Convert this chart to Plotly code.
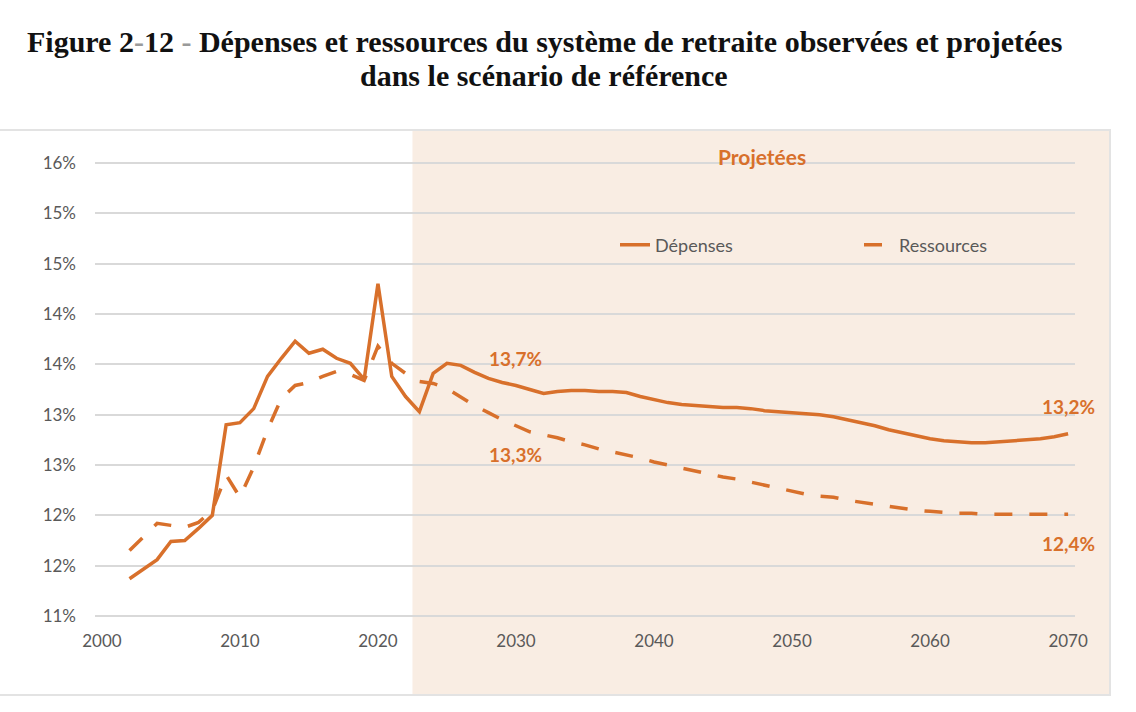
import plotly.graph_objects as go

# ---------------- data ----------------
years_dep = list(range(2002, 2071))
depenses = [11.77, 11.87, 11.96, 12.14, 12.15, 12.27, 12.40, 13.30, 13.32, 13.46,
            13.78, 13.96, 14.13, 14.01, 14.05, 13.96, 13.91, 13.75, 14.70, 13.78,
            13.58, 13.43, 13.81, 13.91, 13.89, 13.82, 13.76, 13.72, 13.69, 13.65,
            13.61, 13.63, 13.64, 13.64, 13.63, 13.63, 13.62, 13.58, 13.55, 13.52,
            13.50, 13.49, 13.48, 13.47, 13.47, 13.46, 13.44, 13.43, 13.42, 13.41,
            13.40, 13.38, 13.35, 13.32, 13.29, 13.25, 13.22, 13.19, 13.16, 13.14,
            13.13, 13.12, 13.12, 13.13, 13.14, 13.15, 13.16, 13.18, 13.21]

years_res = list(range(2002, 2071))
ressources = [12.05, 12.19, 12.32, 12.30, 12.28, 12.33, 12.45, 12.80, 12.58, 12.88,
              13.25, 13.56, 13.69, 13.72, 13.78, 13.83, 13.80, 13.74, 14.08, 13.91,
              13.81, 13.73, 13.71, 13.66, 13.57, 13.49, 13.42, 13.35, 13.29, 13.23,
              13.20, 13.17, 13.13, 13.10, 13.06, 13.03, 13.00, 12.97, 12.93, 12.90,
              12.87, 12.84, 12.81, 12.78, 12.76, 12.73, 12.70, 12.67, 12.64, 12.61,
              12.59, 12.58, 12.55, 12.53, 12.51, 12.49, 12.47, 12.45, 12.44, 12.43,
              12.42, 12.42, 12.41, 12.41, 12.41, 12.41, 12.41, 12.41, 12.41]

y_tickvals = [11.4, 11.9, 12.4, 12.9, 13.4, 13.9, 14.4, 14.9, 15.4, 15.9]
y_ticktext = ["11%", "12%", "12%", "13%", "13%", "14%", "14%", "15%", "15%", "16%"]
x_tickvals = [2000, 2010, 2020, 2030, 2040, 2050, 2060, 2070]

projection_start = 2022.5
label_years = [2030, 2070]

HY = "<span style='color:#9a9a9a'>-</span>"
title_line1 = (f"Figure 2{HY}12 {HY} Dépenses et ressources du système de retraite "
               "observées et projetées")
title_line2 = "dans le scénario de référence"

# ---------------- styling ----------------
ORANGE = "#D8702B"
SHADE = "#F9EDE3"
GRID = "#D9D9D9"
TXT = "#595959"
FONT = "Lato"

W, H = 1136, 712
ML, MR, MT, MB = 95, 61, 161, 94
X_RANGE = [1999.5, 2070.5]
Y_RANGE = [11.38, 15.92]
PW = W - ML - MR
PH = H - MT - MB


def px_to_paper_x(px):
    return (px - ML) / PW


def px_to_paper_y(py):
    return (H - MB - py) / PH


def year_to_paper_x(yr):
    return (yr - X_RANGE[0]) / (X_RANGE[1] - X_RANGE[0])


def fmt(v):
    return f"{v:.1f}".replace(".", ",") + "%"


fig = go.Figure()
fig.add_trace(go.Scatter(x=years_dep, y=depenses, mode="lines", name="Dépenses",
                         line=dict(color=ORANGE, width=3.5)))
fig.add_trace(go.Scatter(x=years_res, y=ressources, mode="lines", name="Ressources",
                         line=dict(color=ORANGE, width=3.5, dash="18px,17px")))

shapes = [
    dict(type="rect", xref="paper", yref="paper", layer="below",
         x0=year_to_paper_x(projection_start), x1=px_to_paper_x(1110),
         y0=px_to_paper_y(694), y1=px_to_paper_y(130),
         fillcolor=SHADE, line=dict(width=0)),
    dict(type="rect", xref="paper", yref="paper", layer="below",
         x0=px_to_paper_x(-3), x1=px_to_paper_x(1110),
         y0=px_to_paper_y(695), y1=px_to_paper_y(130),
         fillcolor="rgba(0,0,0,0)", line=dict(color="#E3E3E3", width=2)),
]

TITLE_FONT = dict(family="Liberation Serif", size=30, color="#111111")
annotations = [
    dict(text=f"<b>{title_line1}</b>", xref="paper", yref="paper",
         x=px_to_paper_x(544), y=px_to_paper_y(42), showarrow=False,
         xanchor="center", yanchor="middle", font=TITLE_FONT),
    dict(text=f"<b>{title_line2}</b>", xref="paper", yref="paper",
         x=px_to_paper_x(544), y=px_to_paper_y(76), showarrow=False,
         xanchor="center", yanchor="middle", font=TITLE_FONT),
    dict(text="Projetées", xref="paper", yref="paper",
         x=px_to_paper_x(762), y=px_to_paper_y(157), showarrow=False,
         xanchor="center", yanchor="middle",
         font=dict(family=FONT, size=21, color=ORANGE, weight="bold")),
]
for yr in label_years:
    i = years_dep.index(yr)
    j = years_res.index(yr)
    annotations.append(dict(text=fmt(depenses[i]), x=yr, y=depenses[i], xref="x", yref="y",
                            showarrow=False, yshift=27,
                            font=dict(family=FONT, size=19, color=ORANGE, weight="bold")))
    annotations.append(dict(text=fmt(ressources[j]), x=yr, y=ressources[j], xref="x", yref="y",
                            showarrow=False, yshift=-29,
                            font=dict(family=FONT, size=19, color=ORANGE, weight="bold")))

fig.update_layout(
    width=W, height=H,
    margin=dict(l=ML, r=MR, t=MT, b=MB, autoexpand=False),
    paper_bgcolor="white",
    plot_bgcolor="rgba(0,0,0,0)",
    xaxis=dict(range=X_RANGE, tickvals=x_tickvals, showgrid=False, zeroline=False,
               showline=False, ticks="", ticklabelstandoff=11,
               tickfont=dict(family=FONT, size=17, color=TXT)),
    yaxis=dict(range=Y_RANGE, tickvals=y_tickvals, ticktext=y_ticktext,
               showgrid=True, gridcolor=GRID, gridwidth=1.5, zeroline=False,
               showline=False, ticks="", ticklabelstandoff=18,
               tickfont=dict(family=FONT, size=17, color=TXT)),
    legend=dict(orientation="h", x=px_to_paper_x(615), y=px_to_paper_y(245),
                xanchor="left", yanchor="middle", bgcolor="rgba(0,0,0,0)",
                entrywidth=199, entrywidthmode="pixels",
                font=dict(family=FONT, size=18, color=TXT)),
    shapes=shapes,
    annotations=annotations,
    showlegend=True,
)

fig.write_html("out.html", config={"displayModeBar": False},
               post_script="document.body.style.margin='0';")
